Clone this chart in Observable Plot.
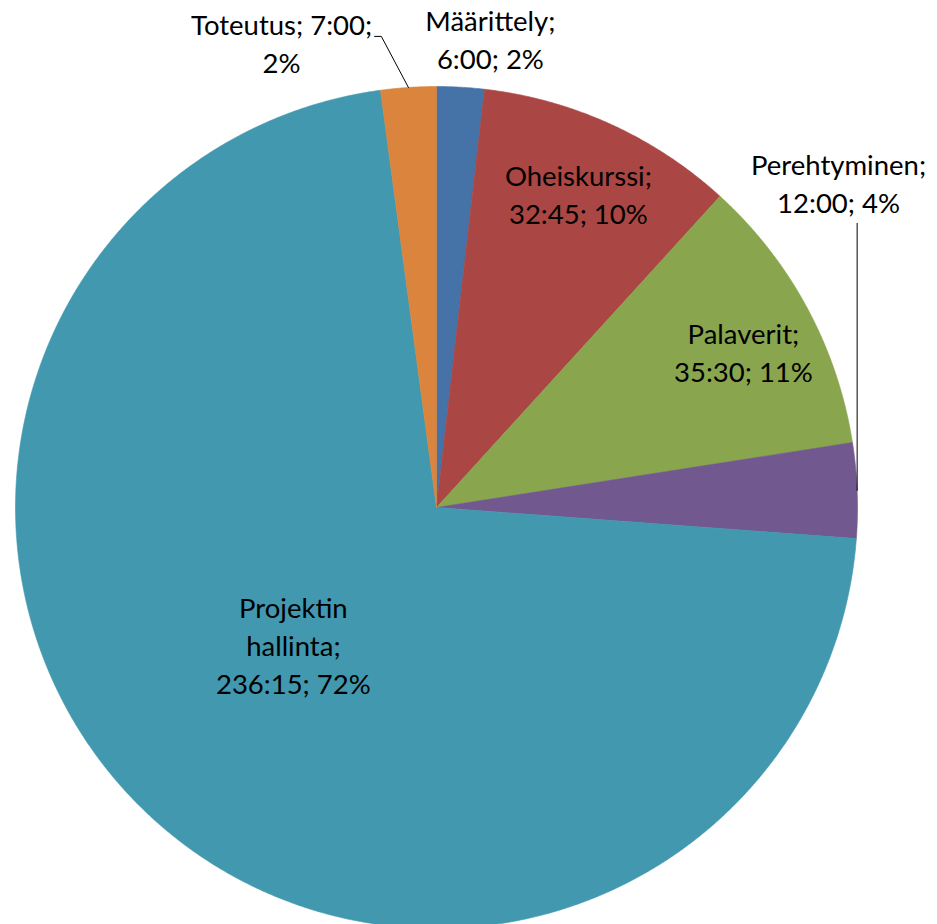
<!DOCTYPE html>
<html>
<head>
<meta charset="utf-8">
<script src="https://cdn.jsdelivr.net/npm/d3@7"></script>
<script src="https://cdn.jsdelivr.net/npm/@observablehq/plot@0.6"></script>
<style>
  html, body { margin: 0; padding: 0; background: #ffffff; }
  #chart { width: 937px; height: 924px; overflow: hidden; }
</style>
</head>
<body>
<div id="chart"></div>
<script>
// ---- data ----
const categories = ["Määrittely", "Oheiskurssi", "Palaverit", "Perehtyminen", "Projektin hallinta", "Toteutus"];
const hours = [6, 32.75, 35.5, 12, 236.25, 7];
const timeLabels = ["6:00", "32:45", "35:30", "12:00", "236:15", "7:00"];
const percentLabels = ["2%", "10%", "11%", "4%", "72%", "2%"];

// ---- styles / layout ----
const colors = ["#4572A7", "#AA4643", "#89A54E", "#71588F", "#4198AF", "#DB843D"];
// label texts (line breaks as in the reference)
const labelTexts = categories.map((c, i) => {
  const name = c === "Projektin hallinta" ? "Projektin\nhallinta" : c;
  if (c === "Toteutus") return `${name}; ${timeLabels[i]};\n${percentLabels[i]}`;
  return `${name};\n${timeLabels[i]}; ${percentLabels[i]}`;
});
// label centres in unit-circle coordinates (radius = 1)
const labelPos = [
  [0.128, 1.116],
  [0.337, 0.748],
  [0.729, 0.372],
  [0.955, 0.774],
  [-0.340, -0.324],
  [-0.368, 1.106]
];

const pie = d3.pie().sort(null).value(d => d)(hours);

// slice polygons
const slicePts = [];
pie.forEach((p, i) => {
  slicePts.push({name: categories[i], x: 0, y: 0});
  const n = Math.max(2, Math.ceil((p.endAngle - p.startAngle) / 0.005));
  for (let k = 0; k <= n; k++) {
    const a = p.startAngle + (p.endAngle - p.startAngle) * k / n;
    slicePts.push({name: categories[i], x: Math.sin(a), y: Math.cos(a)});
  }
  slicePts.push({name: categories[i], x: 0, y: 0});
});

const labels = categories.map((c, i) => ({name: c, text: labelTexts[i], x: labelPos[i][0], y: labelPos[i][1]}));

// leader lines for Toteutus and Perehtyminen
const mid = i => (pie[i].startAngle + pie[i].endAngle) / 2;
const iT = categories.indexOf("Toteutus");
const iP = categories.indexOf("Perehtyminen");
const leaders = [
  {g: "T", x: -0.147, y: 1.119},
  {g: "T", x: -0.131, y: 1.119},
  {g: "T", x: Math.sin(mid(iT)), y: Math.cos(mid(iT))},
  {g: "P", x: Math.sin(mid(iP)), y: 0.675},
  {g: "P", x: Math.sin(mid(iP)), y: Math.cos(mid(iP))}
];

const cx = 436, cy = 507, R = 421;
const chart = Plot.plot({
  width: 937,
  height: 924,
  margin: 0,
  x: {domain: [-1, 1], range: [cx - R, cx + R], axis: null},
  y: {domain: [-1, 1], range: [cy + R, cy - R], axis: null},
  color: {domain: categories, range: colors},
  style: {fontFamily: "Lato, 'Open Sans', sans-serif", background: "#ffffff"},
  marks: [
    Plot.line(slicePts, {x: "x", y: "y", z: "name", fill: "name", stroke: "name", strokeWidth: 0.6, curve: "linear"}),
    Plot.line(leaders, {x: "x", y: "y", z: "g", stroke: "#000000", strokeWidth: 1}),
    Plot.text(labels, {x: "x", y: "y", text: "text", fontSize: 27.5, lineHeight: 1.38, fill: "#000000"})
  ]
});
document.getElementById("chart").appendChild(chart);
</script>
</body>
</html>
